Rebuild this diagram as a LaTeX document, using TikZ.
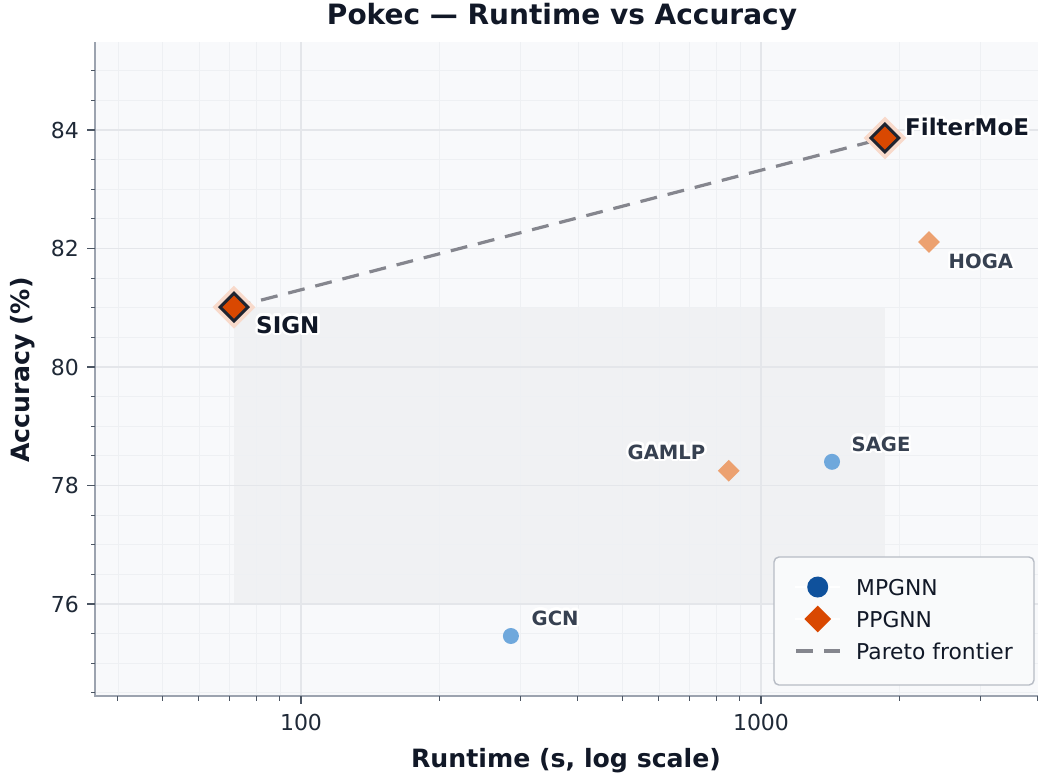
\documentclass[tikz,border=0pt]{standalone}
\usepackage{fontspec}
\setmainfont{DejaVu Sans}
\usepackage[copies]{contour}
\contourlength{2.4pt}
\contournumber{24}
\usetikzlibrary{shapes.geometric}

\definecolor{plotbg}{HTML}{F8F9FB}
\definecolor{boxshade}{HTML}{F0F1F3}
\definecolor{gridmajor}{HTML}{E4E6EA}
\definecolor{gridminor}{HTML}{EEF0F3}
\definecolor{spine}{HTML}{9CA3AF}
\definecolor{tickc}{HTML}{4B5563}
\definecolor{inkdark}{HTML}{111827}
\definecolor{inkmid}{HTML}{374151}
\definecolor{ticktext}{HTML}{1F2937}
\definecolor{ppgnn}{HTML}{D94801}
\definecolor{ppgnnlight}{HTML}{ECA170}
\definecolor{mpgnn}{HTML}{0F519C}
\definecolor{mpgnnlight}{HTML}{6FA8DC}
\definecolor{halo}{HTML}{F8DACB}
\definecolor{edgec}{HTML}{1F2430}
\definecolor{frontierc}{HTML}{85868E}
\definecolor{legendedge}{HTML}{B7BCC5}
\definecolor{legendbg}{HTML}{F9FAFB}

\tikzset{
  fsz/.style={font=\fontsize{#1}{#1}\selectfont},
  bfsz/.style={font=\bfseries\fontsize{#1}{#1}\selectfont},
  majorgrid/.style={draw=gridmajor, line width=1.1pt},
  minorgrid/.style={draw=gridminor, line width=0.8pt},
  majortick/.style={draw=tickc, line width=1.4pt},
  minortick/.style={draw=tickc, line width=1pt},
  ticklabel/.style={fsz=22, text=ticktext, inner sep=0pt},
  frontier/.style={draw=frontierc, line width=3.2pt, dash pattern=on 17pt off 11pt},
  halomark/.style={diamond, inner sep=0pt, minimum size=43pt, fill=halo},
  bestmark/.style={diamond, inner sep=0pt, minimum size=29pt, fill=ppgnn, draw=edgec, line width=3pt},
  ppmark/.style={diamond, inner sep=0pt, minimum size=22pt, fill=ppgnnlight},
  mpmark/.style={circle, inner sep=0pt, minimum size=16pt, fill=mpgnnlight},
  bestlabel/.style={anchor=base west, inner sep=0pt, bfsz=23, text=inkdark},
  ptlabel/.style={anchor=base west, inner sep=0pt, bfsz=19.6, text=inkmid},
  legendtext/.style={anchor=base west, inner sep=0pt, fsz=21.8, text=inkdark},
}

\begin{document}
\begin{tikzpicture}[x=1pt, y=-1pt,
  declare function={xp(\v)=301+460*log10(\v/100); yp(\a)=604-59.25*(\a-76);}]
\useasboundingbox (0,0) rectangle (1040,780);

% plot area and the dominated region under the frontier
\fill[plotbg] (95,42) rectangle (1038,696);
\fill[boxshade] ({xp(71.5)},{yp(76)}) rectangle ({xp(1860)},{yp(81.01)});

% minor grid
\foreach \v in {40,50,60,70,80,90,200,300,400,500,600,700,800,900,2000,3000}
  \draw[minorgrid] ({xp(\v)},42) -- ({xp(\v)},696);
\foreach \a in {74.5,75,...,85}
  \draw[minorgrid] (95,{yp(\a)}) -- (1038,{yp(\a)});
% major grid
\foreach \v in {100,1000}
  \draw[majorgrid] ({xp(\v)},42) -- ({xp(\v)},696);
\foreach \a in {76,78,...,84}
  \draw[majorgrid] (95,{yp(\a)}) -- (1038,{yp(\a)});

% spines
\draw[draw=spine, line width=1.6pt] (95,42) -- (95,696) -- (1038,696);

% x ticks
\foreach \v in {40,50,60,70,80,90,200,300,400,500,600,700,800,900,2000,3000,4000}
  \draw[minortick] ({xp(\v)},696) -- ({xp(\v)},700.5);
\foreach \v/\t in {100/100,1000/1000} {
  \draw[majortick] ({xp(\v)},696) -- ({xp(\v)},704);
  \node[ticklabel, anchor=base] (xt\v) at ({xp(\v)},730) {\t};
}
% y ticks
\foreach \a in {74.5,75,75.5,76.5,77,77.5,78.5,79,79.5,80.5,81,81.5,82.5,83,83.5,84.5,85}
  \draw[minortick] (95,{yp(\a)}) -- (90.5,{yp(\a)});
\foreach \a in {76,78,80,82,84} {
  \draw[majortick] (95,{yp(\a)}) -- (87,{yp(\a)});
  \node[ticklabel, anchor=east] (yt\a) at (79,{yp(\a)}) {\a};
}

% title and axis labels
\node[bfsz=28, text=inkdark, anchor=base, inner sep=0pt] (title) at (562,24) {Pokec — Runtime vs Accuracy};
\node[bfsz=25.2, text=inkdark, anchor=base, inner sep=0pt] (xlabel) at (566,767) {Runtime (s, log scale)};
\node[bfsz=25.2, text=inkdark, anchor=base, inner sep=0pt, rotate=90] (ylabel) at (29,370) {Accuracy (\%)};

% Pareto frontier
\coordinate (p-sign) at ({xp(71.5)},{yp(81.01)});
\coordinate (p-filtermoe) at ({xp(1860)},{yp(83.865)});
\draw[frontier] (p-sign) -- (p-filtermoe);

% methods
\node[mpmark] (gcn) at ({xp(286)},{yp(75.46)}) {};
\node[mpmark] (sage) at ({xp(1427)},{yp(78.40)}) {};
\node[ppmark] (gamlp) at ({xp(851)},{yp(78.25)}) {};
\node[ppmark] (hoga) at ({xp(2318)},{yp(82.11)}) {};
\node[halomark] (sign-halo) at (p-sign) {};
\node[bestmark] (sign) at (p-sign) {};
\node[halomark] (filtermoe-halo) at (p-filtermoe) {};
\node[bestmark] (filtermoe) at (p-filtermoe) {};

% method labels
\node[bestlabel] (lab-filtermoe) at (905,135) {\contour{white}{FilterMoE}};
\node[bestlabel] (lab-sign) at (256,333) {\contour{white}{SIGN}};
\node[ptlabel] (lab-hoga) at (948.5,268) {\contour{white}{HOGA}};
\node[ptlabel] (lab-gamlp) at (627.5,459) {\contour{white}{GAMLP}};
\node[ptlabel] (lab-sage) at (851.5,451) {\contour{white}{SAGE}};
\node[ptlabel] (lab-gcn) at (531.5,625) {\contour{white}{GCN}};

% legend
\draw[draw=legendedge, fill=legendbg, line width=1.4pt, rounded corners=5pt] (774,557) rectangle (1034,685);
\coordinate (lg1a) at (795,587); \coordinate (lg1b) at (840,587);
\coordinate (lg2a) at (795,619); \coordinate (lg2b) at (840,619);
\coordinate (lg3a) at (796,651); \coordinate (lg3b) at (839.5,651);
\draw[white, line width=2pt] (lg1a) -- (lg1b);
\draw[white, line width=2pt] (lg2a) -- (lg2b);
\node[circle, inner sep=0pt, minimum size=21pt, fill=mpgnn] (lg-mp) at (817.7,587) {};
\node[diamond, inner sep=0pt, minimum size=27pt, fill=ppgnn] (lg-pp) at (817.7,619) {};
\draw[frontier] (lg3a) -- (lg3b);
\node[legendtext] (lgt-mp) at (856,595) {MPGNN};
\node[legendtext] (lgt-pp) at (856,627) {PPGNN};
\node[legendtext] (lgt-fr) at (856,659) {Pareto frontier};
\end{tikzpicture}
\end{document}
